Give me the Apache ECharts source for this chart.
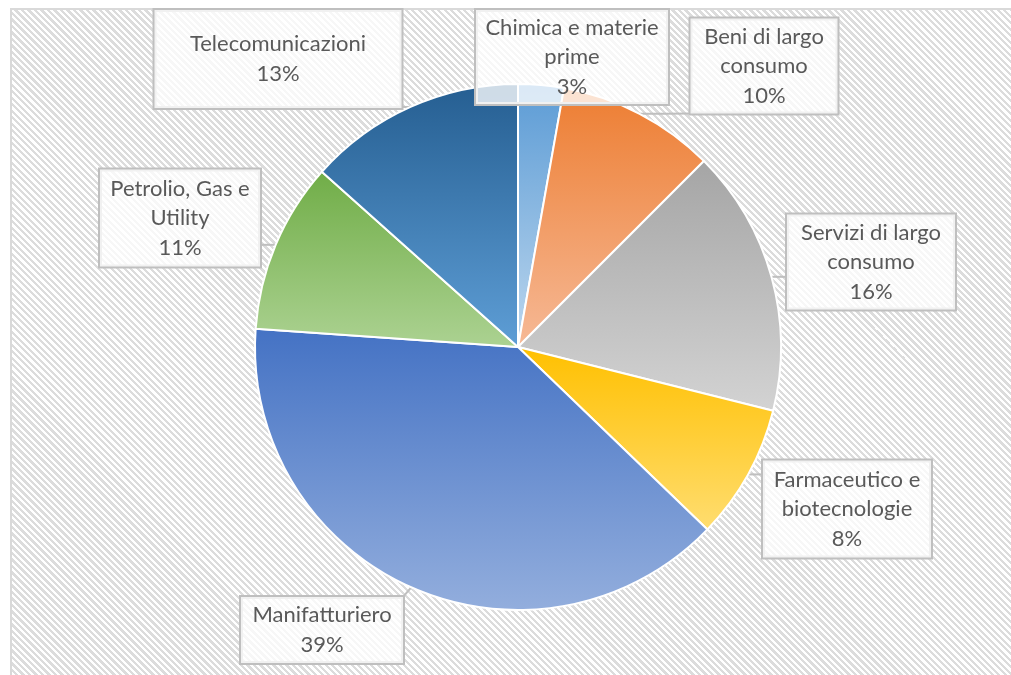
<!DOCTYPE html>
<html><head><meta charset="utf-8">
<script src="https://cdn.jsdelivr.net/npm/echarts@6/dist/echarts.min.js"></script>
<style>
html,body{margin:0;padding:0;background:#fff;}
#frame{position:absolute;left:10px;top:8px;width:1001px;height:667px;border-top:2px solid #d9d9d9;border-left:2px solid #d9d9d9;box-sizing:border-box;
background:repeating-linear-gradient(45deg,#ffffff 0px,#ffffff 2.3px,#dcdcdc 2.3px,#dcdcdc 4.6px);}
#chart{position:absolute;left:0;top:0;width:1011px;height:675px;}
</style></head>
<body><div id="frame"></div><div id="chart"></div>
<script>
// ---- data ----
const categories = ['Chimica e materie prime', 'Beni di largo consumo', 'Servizi di largo consumo',
  'Farmaceutico e biotecnologie', 'Manifatturiero', 'Petrolio, Gas e Utility', 'Telecomunicazioni'];
const values = [2.8, 9.7, 16.4, 8.3, 38.9, 10.5, 13.4];

// ---- styling (not data) ----
const topColors = ['#5b9bd5', '#ed7d31', '#a5a5a5', '#ffc000', '#4472c4', '#70ad47', '#255e91'];
const bottomColors = ['#bdd7ee', '#f6b996', '#d3d3d3', '#ffdd70', '#93aedd', '#acd292', '#5e9ed6'];
const wrapped = {
  'Chimica e materie prime': 'Chimica e materie\nprime',
  'Beni di largo consumo': 'Beni di largo\nconsumo',
  'Servizi di largo consumo': 'Servizi di largo\nconsumo',
  'Farmaceutico e biotecnologie': 'Farmaceutico e\nbiotecnologie',
  'Petrolio, Gas e Utility': 'Petrolio, Gas e\nUtility'
};
// label box layout: centre x, centre y, width, height
const boxLayout = [
  [572, 57, 192, 94],
  [764, 66, 147, 95],
  [871, 262, 168, 95],
  [847, 509, 168, 97],
  [322, 630, 162, 66],
  [180, 218, 160, 97],
  [278, 59, 247, 98]
];
const LH = 29.5;

const chart = echarts.init(document.getElementById('chart'), null, {renderer: 'canvas'});
const data = categories.map((name, i) => {
  const txt = (wrapped[name] || name);
  const lines = txt.split('\n').length + 1;
  const b = boxLayout[i];
  const pv = Math.max(0, (b[3] - lines * LH) / 2);
  return {
    name: name,
    value: values[i],
    itemStyle: {
      color: new echarts.graphic.LinearGradient(0, 0, 0, 1, [
        {offset: 0, color: topColors[i]},
        {offset: 1, color: bottomColors[i]}
      ])
    },
    label: {width: b[2], padding: [pv + 2, 0, Math.max(0, pv - 2), 0]}
  };
});

chart.setOption({
  animation: false,
  series: [{
    type: 'pie',
    center: [518, 347],
    radius: [0, 263],
    startAngle: 90,
    clockwise: true,
    avoidLabelOverlap: false,
    data: data,
    itemStyle: {borderColor: '#ffffff', borderWidth: 2},
    label: {
      show: true,
      position: 'outside',
      formatter: p => (wrapped[p.name] || p.name) + '\n' + Math.round(p.percent) + '%',
      fontFamily: 'Lato',
      fontSize: 22,
      lineHeight: LH,
      color: '#595959',
      align: 'center',
      backgroundColor: 'rgba(255,255,255,0.78)',
      borderColor: '#bfbfbf',
      borderWidth: 2
    },
    labelLine: {show: true, length: 10, length2: 10, lineStyle: {color: '#bfbfbf', width: 2}},
    labelLayout: function (params) {
      const b = boxLayout[params.dataIndex];
      const x0 = b[0] - b[2] / 2, x1 = b[0] + b[2] / 2;
      const y0 = b[1] - b[3] / 2, y1 = b[1] + b[3] / 2;
      const out = {x: b[0], y: b[1], align: 'center', verticalAlign: 'middle', hideOverlap: false};
      const pts = params.labelLinePoints;
      if (pts && pts.length) {
        const s = pts[0];
        const ex = Math.min(Math.max(s[0], x0), x1);
        const ey = Math.min(Math.max(s[1], y0), y1);
        out.labelLinePoints = [[s[0], s[1]], [(s[0] + ex) / 2, (s[1] + ey) / 2], [ex, ey]];
      }
      return out;
    },
    emphasis: {disabled: true}
  }]
});
</script>
</body></html>
